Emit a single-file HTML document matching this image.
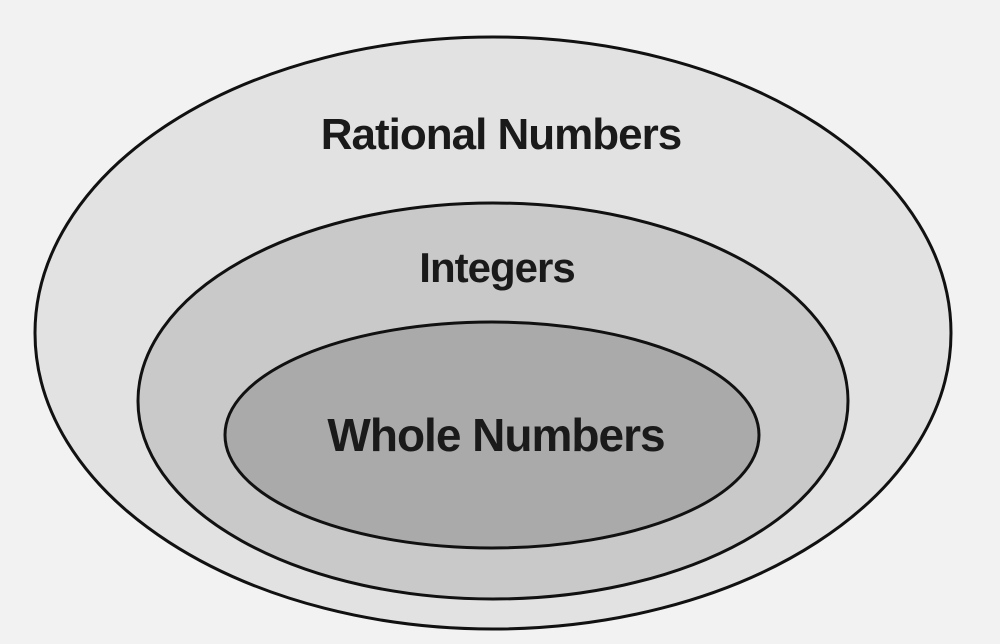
<!DOCTYPE html>
<html><head><meta charset="utf-8"><style>
html,body{margin:0;padding:0;background:#f3f3f3;}
svg{display:block}
text{font-family:"Liberation Sans",sans-serif;font-weight:bold;fill:#1a1a1a;text-anchor:middle;letter-spacing:-1px}
</style></head><body>
<svg width="1000" height="644" viewBox="0 0 1000 644">
<rect width="1000" height="644" fill="#f2f2f2"/>
<ellipse cx="493" cy="333" rx="458" ry="296" fill="#e2e2e2" stroke="#111" stroke-width="3"/>
<ellipse cx="493" cy="401" rx="355" ry="198" fill="#c9c9c9" stroke="#111" stroke-width="3"/>
<ellipse cx="492" cy="435" rx="267" ry="113" fill="#aaaaaa" stroke="#111" stroke-width="3"/>
<text x="501" y="149" font-size="44">Rational Numbers</text>
<text x="497" y="282" font-size="42">Integers</text>
<text x="496" y="451" font-size="46">Whole Numbers</text>
</svg>
</body></html>
